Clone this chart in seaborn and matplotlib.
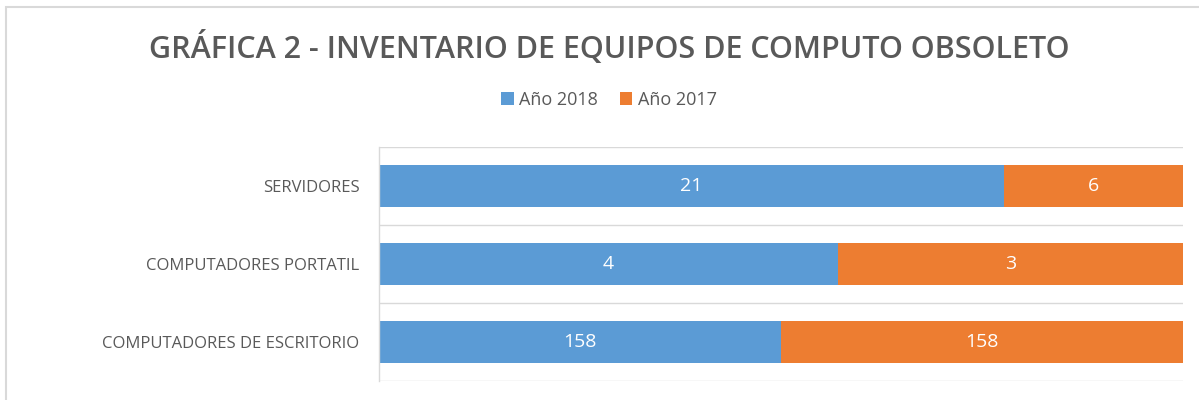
import numpy as np
import pandas as pd
import matplotlib
matplotlib.use('Agg')
import matplotlib.pyplot as plt
import seaborn as sns
from matplotlib.patches import Patch, Rectangle

# data
categories = ['SERVIDORES', 'COMPUTADORES PORTATIL', 'COMPUTADORES DE ESCRITORIO']
y2018 = [21, 4, 158]
y2017 = [6, 3, 158]
series_names = ['Año 2018', 'Año 2017']

df = pd.DataFrame({'cat': categories, 'a2018': y2018, 'a2017': y2017})
df['total'] = df['a2018'] + df['a2017']
df['p2018'] = df['a2018'] / df['total']
df['p_all'] = 1.0

blue = '#5b9bd5'
orange = '#ed7d31'
grey_txt = '#595959'
grid_col = '#d9d9d9'

sns.set_style('white')
plt.rcParams['font.family'] = ['Open Sans', 'DejaVu Sans']

fig = plt.figure(figsize=(11.99, 4.0), dpi=100)
ax = fig.add_axes([0.316, 0.0475, 0.6707, 0.585])

# stacked 100% bars: orange full length underneath, blue share on top
sns.barplot(data=df, x='p_all', y='cat', order=categories, color=orange,
            width=0.55, ax=ax, orient='h', saturation=1, edgecolor='none')
sns.barplot(data=df, x='p2018', y='cat', order=categories, color=blue,
            width=0.55, ax=ax, orient='h', saturation=1, edgecolor='none')

ax.set_xlim(0, 1)
ax.set_ylim(2.5, -0.5)
ax.set_xlabel('')
ax.set_ylabel('')
ax.set_xticks([])
for s in ['top', 'right', 'bottom']:
    ax.spines[s].set_visible(False)
ax.spines['left'].set_color(grid_col)
ax.spines['left'].set_linewidth(1)
for yy in [-0.5, 0.5, 1.5, 2.5]:
    ax.axhline(yy, color=grid_col, linewidth=1, zorder=0)

ax.tick_params(axis='y', length=0, pad=14, labelsize=12, labelcolor=grey_txt)

# value labels
for i, row in df.iterrows():
    ax.text(row['p2018'] / 2, i, str(row['a2018']), ha='center', va='center',
            color='white', fontsize=14)
    ax.text(row['p2018'] + (1 - row['p2018']) / 2, i, str(row['a2017']),
            ha='center', va='center', color='white', fontsize=14)

fig.text(0.508, 0.88, 'GRÁFICA 2 - INVENTARIO DE EQUIPOS DE COMPUTO OBSOLETO',
         ha='center', va='center', fontsize=22, fontweight='semibold',
         color=grey_txt)

handles = [Patch(facecolor=blue, edgecolor='none'),
           Patch(facecolor=orange, edgecolor='none')]
fig.legend(handles, series_names, loc='center', bbox_to_anchor=(0.508, 0.75),
           ncol=2, frameon=False, fontsize=13, handlelength=0.7,
           handleheight=0.7, handletextpad=0.3, columnspacing=1.2,
           labelcolor=grey_txt)

# outer chart border
fig.patches.append(Rectangle((0.005, -0.05), 1.2, 1.032, transform=fig.transFigure,
                             fill=False, edgecolor=grid_col, linewidth=1.5))

fig.savefig('out.png', dpi=100)
